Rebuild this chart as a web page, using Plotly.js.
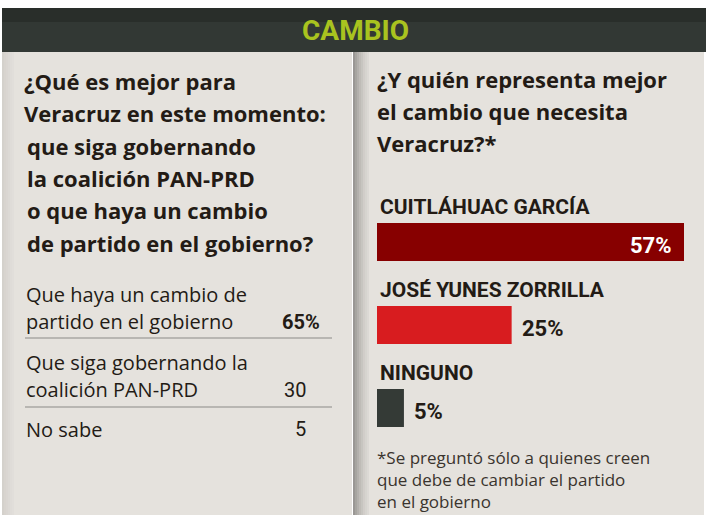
<!DOCTYPE html>
<html>
<head>
<meta charset="utf-8">
<script src="https://cdn.plot.ly/plotly-3.0.1.min.js"></script>
<style>html,body{margin:0;padding:0;background:#fff;}#chart{width:712px;height:515px;}</style>
</head>
<body>
<div id="chart"></div>
<script>
// ---------- DATA ----------
const headerTitle = "CAMBIO";
const leftQuestion = ["¿Qué es mejor para", "Veracruz en este momento:", "que siga gobernando", "la coalición PAN-PRD", "o que haya un cambio", "de partido en el gobierno?"];
const optionLines = [["Que haya un cambio de", "partido en el gobierno"], ["Que siga gobernando la", "coalición PAN-PRD"], ["No sabe"]];
const optionValues = [65, 30, 5];
const rightQuestion = ["¿Y quién representa mejor", "el cambio que necesita", "Veracruz?*"];
const candidates = ["CUITLÁHUAC GARCÍA", "JOSÉ YUNES ZORRILLA", "NINGUNO"];
const candidateValues = [57, 25, 5];
const candidateColors = ["#870000", "#d81c1f", "#343a36"];
const footnote = ["*Se preguntó sólo a quienes creen", "que debe de cambiar el partido", "en el gobierno"];

// ---------- LAYOUT HELPERS ----------
const W = 712, H = 515;
const px = x => x / W;
const py = y => 1 - y / H;
const ink = "#231b15";
const panel = "#e5e2dd";

const shapes = [];
const annotations = [];

function rect(x0, y0, x1, y1, color, opacity) {
  shapes.push({type: "rect", xref: "paper", yref: "paper", layer: "below",
    x0: px(x0), x1: px(x1), y0: py(y1), y1: py(y0),
    fillcolor: color, opacity: opacity === undefined ? 1 : opacity, line: {width: 0}});
}
function hline(x0, x1, y, color, w) {
  shapes.push({type: "line", xref: "paper", yref: "paper", layer: "below",
    x0: px(x0), x1: px(x1), y0: py(y), y1: py(y), line: {color: color, width: w}});
}
function label(text, x, y, opts) {
  opts = opts || {};
  annotations.push({text: text, xref: "paper", yref: "paper", x: px(x), y: py(y),
    xanchor: opts.anchor || "left", yanchor: "middle", showarrow: false, align: "left",
    font: {family: opts.family || "Open Sans", size: opts.size || 20, color: opts.color || ink,
      weight: opts.weight || 400}});
}

// panels
rect(2, 52, 352, 515, panel);
rect(353, 52, 704, 515, panel);
// header with slight gradient
rect(2, 8, 706, 52, "#323834");
rect(2, 8, 706, 22, "#232824", 0.6);
// left edge shade of left panel
for (let i = 0; i < 6; i++) rect(2 + i * 2, 52, 4 + i * 2, 515, "#8a8782", 0.18 - i * 0.03);
// fold shadow at right panel
const shadeSteps = [0.55, 0.45, 0.36, 0.28, 0.21, 0.15, 0.1, 0.06];
shadeSteps.forEach((o, i) => rect(353 + i * 2, 52, 355 + i * 2, 515, "#5c5a57", o));

// header title
label(headerTitle, 355, 31, {anchor: "center", family: "Roboto", size: 28, weight: 700, color: "#a9c31f"});

// left question
leftQuestion.forEach((t, i) => label(t, i < 2 ? 22 : 25, 81 + i * 32.3, {size: 22, weight: 700}));

// left table
const rowTops = [294, 362, 429];
const sepY = [338, 407];
optionLines.forEach((lines, r) => {
  lines.forEach((t, k) => label(t, 24, rowTops[r] + k * 27.5, {size: 20}));
  const lastY = rowTops[r] + (lines.length - 1) * 27.5;
  if (r === 0) label(optionValues[r] + "%", 322, lastY, {anchor: "right", family: "Roboto", size: 20, weight: 700});
  else label(String(optionValues[r]), 308, lastY, {anchor: "right", family: "Roboto", size: 20});
});
sepY.forEach(y => hline(25, 332, y, "#a9a7a3", 1.5));

// right question
rightQuestion.forEach((t, i) => label(t, 375, 79 + i * 32, {size: 22, weight: 700}));

// footnote (single multi-line block)
label(footnote.join("<br>"), 375, 479, {size: 17, color: "#3a342e"});

// candidate names and values (data coords)
candidates.forEach((c, i) => {
  annotations.push({text: c, xref: "x", yref: "y", x: 0, y: c, xshift: 1, yshift: 35,
    xanchor: "left", yanchor: "middle", showarrow: false,
    font: {family: "Roboto", size: 21, weight: 700, color: ink}});
  const inside = candidateValues[i] > 40;
  annotations.push({text: candidateValues[i] + "%", xref: "x", yref: "y", x: candidateValues[i], y: c,
    xshift: inside ? -10 : 8, yshift: -3, xanchor: inside ? "right" : "left", yanchor: "middle", showarrow: false,
    font: {family: "Roboto", size: 22, weight: 700, color: inside ? "#ffffff" : ink}});
});

const trace = {
  type: "bar", orientation: "h",
  x: candidateValues, y: candidates,
  width: 0.458,
  marker: {color: candidateColors, line: {width: 0}},
  hoverinfo: "skip", showlegend: false
};

const layout = {
  width: W, height: H,
  margin: {l: 0, r: 0, t: 0, b: 0},
  paper_bgcolor: "#ffffff",
  plot_bgcolor: "rgba(0,0,0,0)",
  showlegend: false,
  xaxis: {domain: [377 / W, (377 + 5.386 * 60) / W], range: [0, 60], visible: false, fixedrange: true},
  yaxis: {domain: [py(449.5), py(200.5)], type: "category", range: [2.5, -0.5], visible: false, fixedrange: true},
  shapes: shapes,
  annotations: annotations
};

Plotly.newPlot("chart", [trace], layout, {displayModeBar: false, staticPlot: true});
</script>
</body>
</html>
